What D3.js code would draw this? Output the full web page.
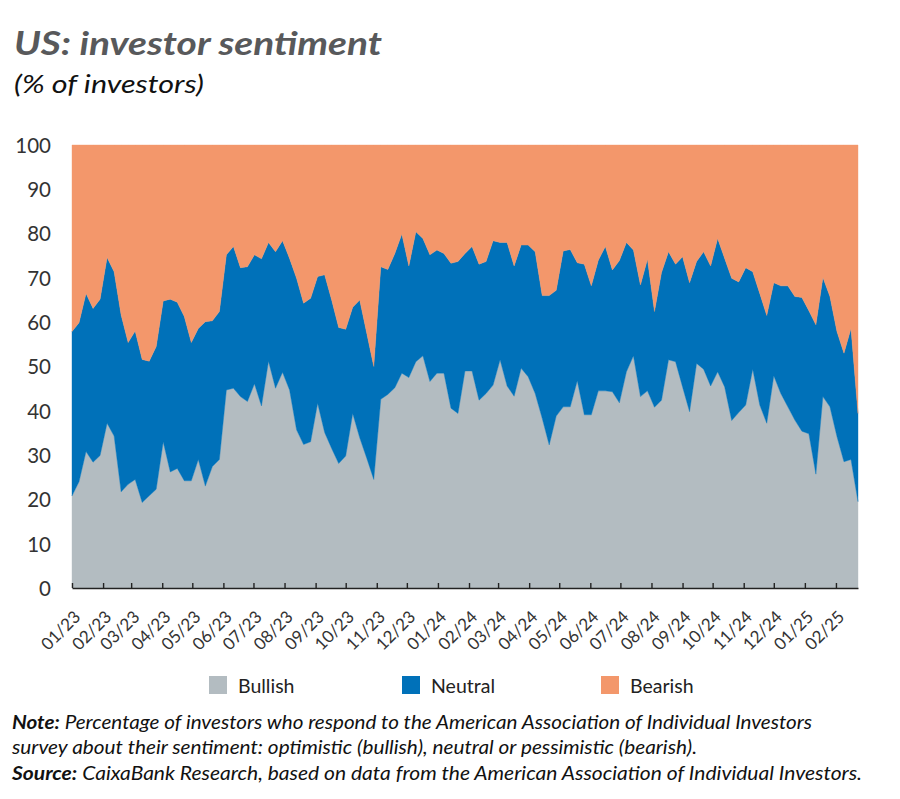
<!DOCTYPE html>
<html>
<head>
<meta charset="utf-8">
<script src="https://cdn.jsdelivr.net/npm/d3@7"></script>
<style>
  html, body { margin: 0; padding: 0; background: #fff; }
  svg { display: block; }
</style>
</head>
<body>
<svg id="chart" width="900" height="799"></svg>
<script>
// ---- Data (weekly AAII survey, % of investors) ----
const startDate = "2023-01-05";   // first weekly observation
const endDate = "2025-02-27";     // last weekly observation

const bullish = [
  20.8, 24.0, 30.8, 28.4, 29.9, 37.2, 34.3, 21.7, 23.4, 24.5,
  19.3, 20.8, 22.3, 33.0, 26.2, 27.0, 24.2, 24.2, 29.0, 23.0,
  27.4, 29.0, 44.7, 45.1, 43.2, 42.1, 46.1, 41.1, 51.2, 45.1,
  48.7, 44.7, 35.7, 32.4, 33.0, 41.7, 35.1, 31.5, 28.1, 29.8,
  39.4, 33.9, 29.3, 24.5, 42.6, 43.7, 45.2, 48.5, 47.5, 51.1,
  52.4, 46.6, 48.5, 48.5, 40.6, 39.4, 49.0, 49.0, 42.4, 43.9,
  45.8, 51.5, 45.6, 43.3, 49.6, 47.7, 43.9, 38.3, 32.3, 38.8,
  40.9, 40.9, 46.8, 39.1, 39.1, 44.5, 44.5, 44.3, 41.8, 48.8,
  52.4, 43.2, 44.5, 40.8, 42.4, 51.5, 51.1, 45.4, 39.8, 50.7,
  49.4, 45.6, 48.8, 45.4, 37.8, 39.6, 41.3, 49.4, 41.3, 37.2,
  47.9, 43.9, 40.9, 37.9, 35.4, 34.8, 25.7, 43.2, 40.9, 34.2,
  28.5, 29.0, 19.5
];
const neutral = [
  37.1, 35.9, 35.7, 34.7, 35.3, 37.4, 37.1, 39.9, 32.0, 33.5,
  32.3, 30.4, 32.2, 31.8, 39.0, 37.5, 37.1, 31.2, 29.6, 37.1,
  32.9, 33.4, 30.5, 32.0, 29.1, 30.4, 29.1, 33.2, 26.8, 30.8,
  29.7, 29.7, 34.2, 31.9, 32.4, 28.6, 35.6, 33.5, 30.7, 28.6,
  24.0, 31.1, 28.2, 25.5, 29.9, 28.2, 30.3, 31.4, 25.2, 29.3,
  26.5, 28.6, 27.8, 27.0, 32.7, 34.3, 26.5, 28.1, 30.7, 29.8,
  32.6, 26.5, 32.4, 29.4, 27.8, 29.7, 32.0, 27.7, 33.7, 28.4,
  35.2, 35.5, 26.6, 34.0, 29.1, 29.5, 32.6, 27.5, 32.1, 29.2,
  23.9, 25.2, 29.7, 21.6, 28.8, 24.4, 22.0, 29.4, 29.1, 23.0,
  26.5, 27.1, 30.1, 29.0, 32.1, 29.5, 31.0, 22.0, 25.2, 24.3,
  21.0, 24.3, 27.3, 27.9, 30.2, 27.8, 33.7, 26.9, 24.9, 23.7,
  24.5, 29.6, 19.9
];
const bearish = [
  42.1, 40.1, 33.5, 36.9, 34.8, 25.4, 28.6, 38.4, 44.6, 42.0,
  48.4, 48.8, 45.5, 35.2, 34.8, 35.5, 38.7, 44.6, 41.4, 39.9,
  39.7, 37.6, 24.8, 22.9, 27.7, 27.5, 24.8, 25.7, 22.0, 24.1,
  21.6, 25.6, 30.1, 35.7, 34.6, 29.7, 29.3, 35.0, 41.2, 41.6,
  36.6, 35.0, 42.5, 50.0, 27.5, 28.1, 24.5, 20.1, 27.3, 19.6,
  21.1, 24.8, 23.7, 24.5, 26.7, 26.3, 24.5, 22.9, 26.9, 26.3,
  21.6, 22.0, 22.0, 27.3, 22.6, 22.6, 24.1, 34.0, 34.0, 32.8,
  23.9, 23.6, 26.6, 26.9, 31.8, 26.0, 22.9, 28.2, 26.1, 22.0,
  23.7, 31.6, 25.8, 37.6, 28.8, 24.1, 26.9, 25.2, 31.1, 26.3,
  24.1, 27.3, 21.1, 25.6, 30.1, 30.9, 27.7, 28.6, 33.5, 38.5,
  31.1, 31.8, 31.8, 34.2, 34.4, 37.4, 40.6, 29.9, 34.2, 42.1,
  47.0, 41.4, 60.6
];

const seriesNames = ["Bullish", "Neutral", "Bearish"];
const seriesColors = ["#b3bcc1", "#0071b9", "#f3976b"];
const yTicks = [0, 10, 20, 30, 40, 50, 60, 70, 80, 90, 100];

// ---- Layout ----
const svg = d3.select("#chart");
const margin = { left: 72, right: 42, top: 145, bottom: 211 };
const W = 900, H = 799;
const x0 = margin.left, x1 = W - margin.right;   // 72 .. 858
const y0 = H - margin.bottom, y1 = margin.top;   // 588 .. 145

const parse = d3.utcParse("%Y-%m-%d");
const first = parse(startDate), last = parse(endDate);
const dates = d3.utcDay.range(first, d3.utcDay.offset(last, 1), 7);

const rows = dates.map((d, i) => ({
  date: d, Bullish: bullish[i], Neutral: neutral[i], Bearish: bearish[i]
}));

const x = d3.scaleUtc().domain([first, last]).range([x0, x1]);
const y = d3.scaleLinear().domain([0, 100]).range([y0, y1]);

const stack = d3.stack().keys(seriesNames);
const layers = stack(rows);

const area = d3.area()
  .x(d => x(d.data.date))
  .y0(d => y(d[0]))
  .y1(d => y(d[1]))
  .curve(d3.curveLinear);

svg.append("g").selectAll("path")
  .data(layers)
  .join("path")
  .attr("d", area)
  .attr("fill", (d, i) => seriesColors[i])
  .attr("stroke", (d, i) => seriesColors[i])
  .attr("stroke-width", 0.4);

// ---- Y axis (labels only) ----
const yAxis = d3.axisLeft(y).tickValues(yTicks).tickSize(0).tickPadding(0).tickFormat(d3.format("d"));
const gy = svg.append("g").attr("transform", `translate(${x0 - 21},0)`).call(yAxis);
gy.select(".domain").remove();
gy.selectAll("text")
  .attr("font-family", "Lato, 'Open Sans', sans-serif")
  .attr("font-size", 20.5)
  .attr("fill", "#333")
  .attr("dy", "0.36em");

// ---- X axis ----
const tickDates = d3.utcMonth.range(d3.utcMonth.floor(first), last).map(m => d3.utcDay.offset(m, 4));
const xAxis = d3.axisBottom(x)
  .tickValues(tickDates)
  .tickSize(-5)
  .tickSizeOuter(0)
  .tickFormat(d3.utcFormat("%m/%y"));
const gx = svg.append("g").attr("transform", `translate(0,${y0})`).call(xAxis);
gx.select(".domain").attr("stroke", "#222").attr("stroke-width", 1.6);
gx.selectAll(".tick line").attr("stroke", "#222").attr("stroke-width", 1.4);
gx.selectAll("text")
  .attr("font-family", "Lato, 'Open Sans', sans-serif")
  .attr("font-size", 17)
  .attr("fill", "#333")
  .attr("text-anchor", "end")
  .attr("y", 0).attr("dy", 0)
  .attr("transform", "translate(9,30) rotate(-45)");

// ---- Title ----
svg.append("text")
  .attr("x", 14).attr("y", 55)
  .attr("font-family", "Lato, 'Open Sans', sans-serif")
  .attr("font-size", 33).attr("font-weight", "bold").attr("font-style", "italic")
  .attr("fill", "#58595b")
  .attr("textLength", 368).attr("lengthAdjust", "spacingAndGlyphs")
  .text("US: investor sentiment");
svg.append("text")
  .attr("x", 14).attr("y", 93)
  .attr("font-family", "Lato, 'Open Sans', sans-serif")
  .attr("font-size", 25).attr("font-style", "italic")
  .attr("fill", "#111")
  .attr("textLength", 190).attr("lengthAdjust", "spacingAndGlyphs")
  .text("(% of investors)");

// ---- Legend ----
const legendX = [209, 402, 601];
const lg = svg.append("g");
seriesNames.forEach((name, i) => {
  lg.append("rect").attr("x", legendX[i]).attr("y", 676).attr("width", 18).attr("height", 18)
    .attr("fill", seriesColors[i]);
  lg.append("text").attr("x", legendX[i] + 29).attr("y", 693)
    .attr("font-family", "Lato, 'Open Sans', sans-serif")
    .attr("font-size", 19.5).attr("fill", "#222")
    .text(name);
});

// ---- Notes ----
const notes = [
  { b: "Note:", t: " Percentage of investors who respond to the American Association of Individual Investors", y: 729, len: 800 },
  { b: "", t: "survey about their sentiment: optimistic (bullish), neutral or pessimistic (bearish).", y: 754, len: 685 },
  { b: "Source:", t: " CaixaBank Research, based on data from the American Association of Individual Investors.", y: 780, len: 850 }
];
notes.forEach(n => {
  const t = svg.append("text").attr("x", 12).attr("y", n.y)
    .attr("font-family", "Lato, 'Open Sans', sans-serif")
    .attr("font-size", 19).attr("font-style", "italic").attr("fill", "#111")
    .attr("textLength", n.len).attr("lengthAdjust", "spacingAndGlyphs");
  if (n.b) t.append("tspan").attr("font-weight", "bold").text(n.b);
  t.append("tspan").text(n.t);
});
</script>
</body>
</html>
